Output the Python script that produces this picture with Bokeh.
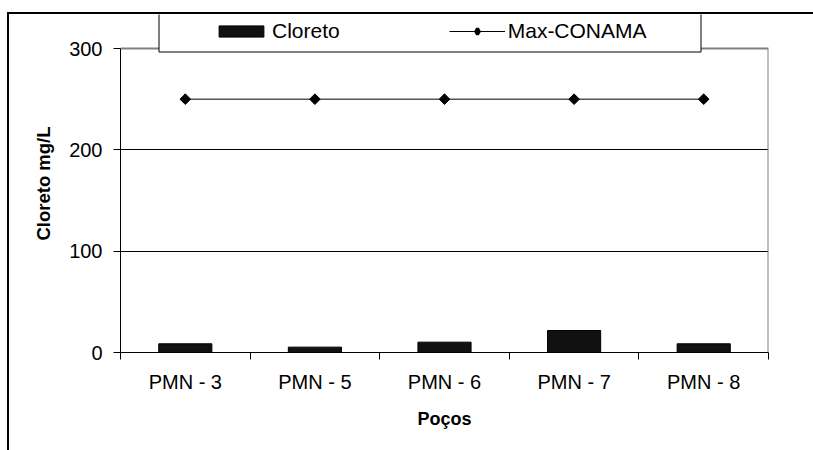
import math

from bokeh.plotting import figure
from bokeh.layouts import column
from bokeh.models import (ColumnDataSource, FixedTicker, Range1d, Legend,
                          LegendItem, BoxAnnotation)
from bokeh.embed import file_html
from bokeh.resources import INLINE

# Chloride concentration per monitoring well, with the CONAMA maximum
wells = ["PMN - 3", "PMN - 5", "PMN - 6", "PMN - 7", "PMN - 8"]
chloride = [8.6, 5.3, 10.2, 21.7, 8.6]
conama_max = [250, 250, 250, 250, 250]
y_ticks = [0, 100, 200, 300]

FONT = "Liberation Sans"

# figure geometry (pixels inside the bordered chart area)
W, H = 804, 436
PLOT_LEFT, PLOT_RIGHT = 111, 759
PLOT_TOP, PLOT_BOTTOM = 34, 338          # where the 300 and 0 lines fall
y_max = y_ticks[-1]
# the frame reaches up to the chart border so the legend box can sit on it
y_top = y_max * PLOT_BOTTOM / (PLOT_BOTTOM - PLOT_TOP)

# wells sit at the middle of unit-wide slots so the ticks can mark slot edges
xs = [i + 0.5 for i in range(len(wells))]
src = ColumnDataSource(dict(x=xs, well=wells, cl=chloride, lim=conama_max))

p = figure(width=W, height=H, output_backend="svg", toolbar_location=None,
           x_range=Range1d(0, len(wells)), y_range=Range1d(0, y_top),
           min_border_left=PLOT_LEFT, min_border_right=W - PLOT_RIGHT,
           min_border_top=0, min_border_bottom=H - PLOT_BOTTOM)
p.background_fill_color = "white"
p.border_fill_color = "white"
p.outline_line_color = None

# plot-area edge on the top and right, in grey
p.line(x=[0, len(wells), len(wells)], y=[y_max, y_max, 0],
       line_color="#808080", line_width=2)

bars = p.vbar(x="x", top="cl", bottom=0, width=0.41, source=src,
              fill_color="#111111", line_color="black", line_width=1)
lim_line = p.line(x="x", y="lim", source=src, line_color="black", line_width=1)
lim_pts = p.scatter(x="x", y="lim", source=src, marker="square", size=7.5,
                    angle=math.pi / 4, fill_color="black", line_color="black")
# legend swatch for the limit series (legend markers are drawn unrotated)
lim_key = p.scatter(x="x", y="lim", source=src, marker="diamond", size=6,
                    fill_color="black", line_color="black", line_width=3,
                    visible=False)

# grid
p.xgrid.visible = False
p.ygrid.ticker = FixedTicker(ticks=y_ticks[1:-1])
p.ygrid.grid_line_color = "black"
p.ygrid.grid_line_width = 1

# x axis: labels at slot centres, ticks at slot edges
xa = p.xaxis[0]
xa.ticker = FixedTicker(ticks=xs, minor_ticks=list(range(len(wells) + 1)))
xa.major_label_overrides = {x: w for x, w in zip(xs, wells)}
xa.major_tick_in = 0
xa.major_tick_out = 0
xa.minor_tick_in = 0
xa.minor_tick_out = 7
xa.minor_tick_line_color = "black"
xa.axis_line_color = "black"
xa.major_label_standoff = 11
xa.major_label_text_font = FONT
xa.major_label_text_font_size = "20px"
xa.major_label_text_color = "black"
xa.axis_label = "Poços"
xa.axis_label_text_font = FONT
xa.axis_label_text_font_size = "18px"
xa.axis_label_text_font_style = "bold"
xa.axis_label_text_color = "black"
xa.axis_label_standoff = 13

ya = p.yaxis[0]
ya.ticker = FixedTicker(ticks=y_ticks, minor_ticks=[])
ya.bounds = (0, y_max)
ya.major_tick_in = 0
ya.major_tick_out = 7
ya.major_tick_line_color = "black"
ya.axis_line_color = "black"
ya.major_label_standoff = 11
ya.major_label_text_font = FONT
ya.major_label_text_font_size = "20px"
ya.major_label_text_color = "black"
ya.axis_label = "Cloreto mg/L"
ya.axis_label_text_font = FONT
ya.axis_label_text_font_size = "18.5px"
ya.axis_label_text_font_style = "bold"
ya.axis_label_text_color = "black"
ya.axis_label_standoff = 12

# legend box hanging from the chart border
p.add_layout(BoxAnnotation(left=149.5, right=691.5, top=-3, bottom=37.5,
                           left_units="canvas", right_units="canvas",
                           top_units="canvas", bottom_units="canvas",
                           fill_color="white", fill_alpha=1,
                           line_color="black", line_alpha=1, line_width=1))

legend = Legend(items=[LegendItem(label="Cloreto", renderers=[bars]),
                       LegendItem(label="Max-CONAMA", renderers=[lim_line, lim_key])],
                orientation="horizontal", location=(93, PLOT_BOTTOM - 29),
                border_line_color=None, background_fill_alpha=0,
                glyph_width=56, glyph_height=14, label_standoff=3,
                spacing=109, padding=0, margin=0,
                label_text_font=FONT, label_text_font_size="21px",
                label_text_color="black")
p.add_layout(legend)

# chart-area border on the top and left edges
page = column(p, styles={"border-top": "2px solid black",
                         "border-left": "2px solid black",
                         "margin-left": "7px", "margin-top": "12px"})

open("out.html", "w").write(file_html(page, INLINE))
